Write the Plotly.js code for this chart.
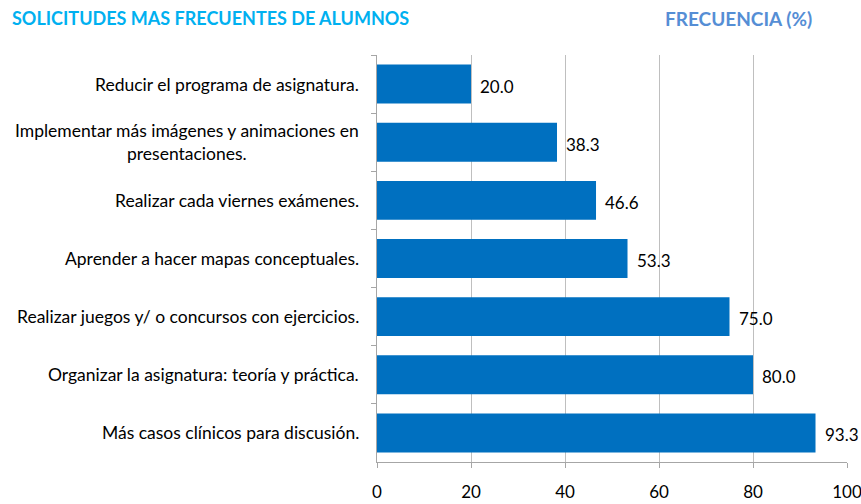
<!DOCTYPE html>
<html>
<head>
<meta charset="utf-8">
<script src="https://cdn.plot.ly/plotly-3.0.1.min.js"></script>
<style>html,body{margin:0;padding:0;background:#fff;}#chart{width:861px;height:504px;}</style>
</head>
<body>
<div id="chart"></div>
<script>
const categories = [
  "Reducir el programa de asignatura.",
  "Implementar más imágenes y animaciones en<br>presentaciones.",
  "Realizar cada viernes exámenes.",
  "Aprender a hacer mapas conceptuales.",
  "Realizar juegos y/ o concursos con ejercicios.",
  "Organizar la asignatura: teoría y práctica.",
  "Más casos clínicos para discusión."
];
const values = [20.0, 38.3, 46.6, 53.3, 75.0, 80.0, 93.3];
const valueLabels = values.map(v => v.toFixed(1));
const xTicks = [0, 20, 40, 60, 80, 100];
const titleLeft = "SOLICITUDES MAS FRECUENTES DE ALUMNOS";
const titleRight = "FRECUENCIA (%)";

const FONT = "Lato, 'Open Sans', sans-serif";

const trace = {
  type: "bar",
  orientation: "h",
  x: values,
  y: categories,
  marker: {color: "#0070C0"},
  cliponaxis: false,
  hoverinfo: "none"
};

const annotations = categories.map(c => ({
  xref: "paper", yref: "y", x: -0.034, y: c,
  xanchor: "right", yanchor: "middle", align: "center",
  text: c, showarrow: false,
  font: {family: FONT, size: 17.5, color: "#000"}
}));
values.forEach((v, i) => annotations.push({
  xref: "x", yref: "y", x: v, y: categories[i],
  xanchor: "left", yanchor: "middle", xshift: 7, yshift: -2,
  text: valueLabels[i], showarrow: false,
  font: {family: FONT, size: 17, color: "#000"}
}));
annotations.push({
  xref: "paper", yref: "paper", x: -0.781, y: 1.0, yshift: 37,
  xanchor: "left", yanchor: "middle", text: "<b>" + titleLeft + "</b>",
  showarrow: false, font: {family: FONT, size: 18, color: "#00B0F0"}
});
annotations.push({
  xref: "paper", yref: "paper", x: 0.608, y: 1.0, yshift: 37,
  xanchor: "left", yanchor: "middle", text: "<b>" + titleRight + "</b>",
  showarrow: false, font: {family: FONT, size: 19, color: "#558ED5"}
});

const layout = {
  width: 861, height: 504,
  margin: {l: 377, r: 14, t: 55, b: 42},
  paper_bgcolor: "#fff", plot_bgcolor: "#fff",
  showlegend: false,
  bargap: 0.33,
  xaxis: {
    range: [0, 100],
    tickvals: xTicks,
    ticktext: xTicks.map(String),
    showgrid: true, gridcolor: "#BFBFBF", gridwidth: 1,
    zeroline: false,
    showline: true, linecolor: "#A6A6A6", linewidth: 1,
    ticks: "outside", ticklen: 5, tickcolor: "#A6A6A6",
    ticklabelstandoff: 10,
    ticklabeloverflow: "allow",
    tickfont: {family: FONT, size: 17, color: "#000"},
    fixedrange: true
  },
  yaxis: {
    type: "category",
    autorange: "reversed",
    showticklabels: false,
    showgrid: false, zeroline: false,
    showline: true, linecolor: "#A6A6A6", linewidth: 1,
    ticks: "outside", ticklen: 5, tickcolor: "#A6A6A6",
    tickson: "boundaries",
    fixedrange: true
  },
  annotations: annotations
};

Plotly.newPlot("chart", [trace], layout, {displayModeBar: false, staticPlot: true});
</script>
</body>
</html>
